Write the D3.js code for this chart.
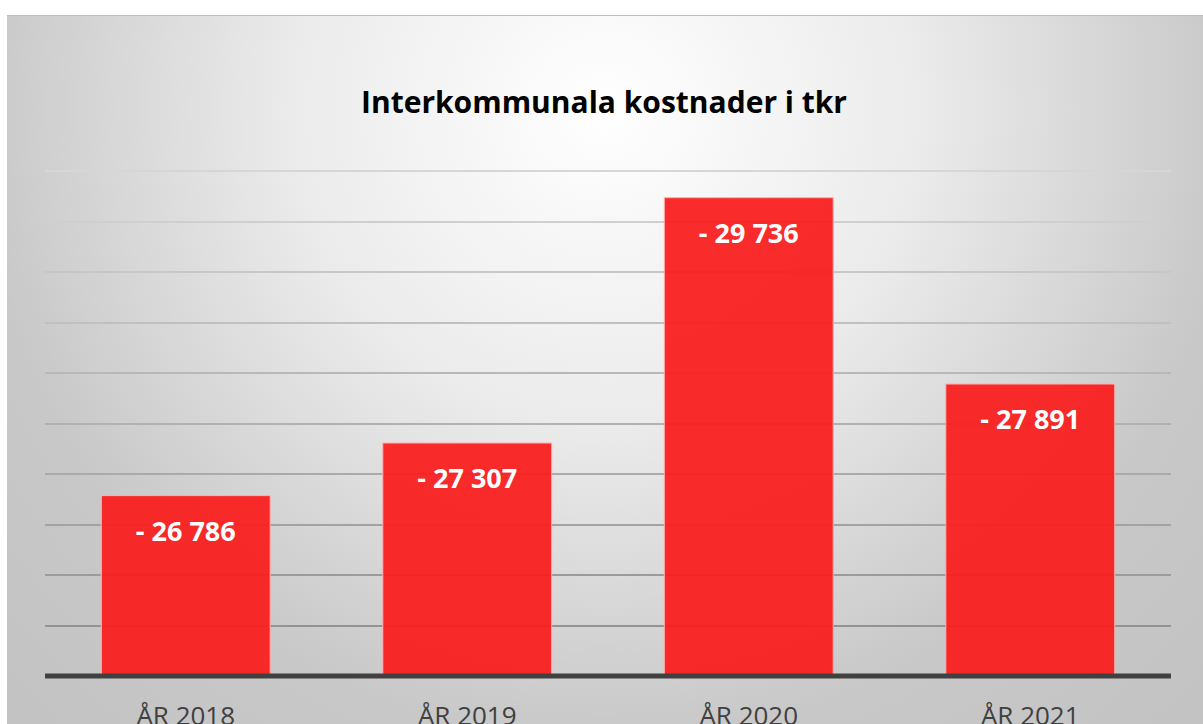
<!DOCTYPE html>
<html>
<head>
    <meta charset="utf-8">
    <title>Interkommunala kostnader i tkr</title>
    <script src="https://d3js.org/d3.v7.min.js"></script>
    <style>
        body { margin: 0; background: #fff; }
        .bar {
            fill: #fa1e1e;
            fill-opacity: 0.94;
            stroke: #ffb3b3;
            stroke-width: 1px;
        }
        .value {
            fill: #fff;
            font-family: "Open Sans", "Noto Sans", sans-serif;
            font-weight: bold;
            font-size: 27px;
        }
        .cat {
            fill: #404040;
            font-family: "Open Sans", "Noto Sans", sans-serif;
            font-size: 26px;
        }
    </style>
</head>
<body>
<script>
    // data (costs, so negative)
    var years = ["ÅR 2018", "ÅR 2019", "ÅR 2020", "ÅR 2021"];
    var costs = [-26786, -27307, -29736, -27891];
    var gridTicks = [-25500, -26000, -26500, -27000, -27500, -28000, -28500, -29000, -29500, -30000];
    var axisBase = -25000;

    var W = 1203, H = 724;
    var svg = d3.select("body").append("svg")
        .attr("width", W)
        .attr("height", H);

    // background: soft radial gradient, light in the top middle
    var defs = svg.append("defs");
    var rg = defs.append("radialGradient")
        .attr("id", "bg")
        .attr("gradientUnits", "userSpaceOnUse")
        .attr("cx", 605).attr("cy", 110).attr("r", 900);
    rg.append("stop").attr("offset", "0%").attr("stop-color", "#ffffff");
    rg.append("stop").attr("offset", "35%").attr("stop-color", "#ebebeb");
    rg.append("stop").attr("offset", "70%").attr("stop-color", "#c8c8c8");
    rg.append("stop").attr("offset", "100%").attr("stop-color", "#c2c2c2");

    svg.append("rect")
        .attr("x", 7).attr("y", 15)
        .attr("width", W - 7).attr("height", H - 15)
        .attr("fill", "url(#bg)");
    svg.append("line")
        .attr("x1", 7).attr("x2", W)
        .attr("y1", 15.5).attr("y2", 15.5)
        .attr("stroke", "#bdbdbd");

    var plotLeft = 45, plotRight = 1171, plotTop = 171, plotBottom = 676;

    var x = d3.scaleBand()
        .domain(years)
        .range([plotLeft, plotRight])
        .paddingInner(0.4)
        .paddingOuter(0.2);

    var y = d3.scaleLinear()
        .domain([axisBase, -30000])
        .range([plotBottom, plotTop]);

    var gridColor = d3.scaleLinear()
        .domain([plotTop, plotBottom])
        .range(["#d6d6d6", "#8c8c8c"]);

    // gridlines
    svg.append("g")
        .selectAll("line")
        .data(gridTicks)
        .enter()
        .append("line")
        .attr("x1", plotLeft).attr("x2", plotRight)
        .attr("y1", d => Math.round(y(d)))
        .attr("y2", d => Math.round(y(d)))
        .attr("stroke", d => gridColor(y(d)))
        .attr("stroke-width", 2);

    // title
    svg.append("text")
        .attr("x", 604)
        .attr("y", 113)
        .attr("text-anchor", "middle")
        .style("font-family", "'Open Sans', 'Noto Sans', sans-serif")
        .style("font-weight", "bold")
        .style("font-size", "30px")
        .style("fill", "#000")
        .text("Interkommunala kostnader i tkr");

    // bars
    svg.append("g")
        .selectAll("rect")
        .data(costs)
        .enter()
        .append("rect")
        .attr("class", "bar")
        .attr("x", (d, i) => x(years[i]))
        .attr("width", x.bandwidth())
        .attr("y", d => y(d))
        .attr("height", d => y(axisBase) - y(d));

    // value labels inside bar tops
    var fmt = d3.formatLocale({ decimal: ",", thousands: " ", grouping: [3], currency: ["", ""] }).format(",d");
    svg.append("g")
        .selectAll("text")
        .data(costs)
        .enter()
        .append("text")
        .attr("class", "value")
        .attr("x", (d, i) => x(years[i]) + x.bandwidth() / 2)
        .attr("y", d => y(d) + 45)
        .attr("text-anchor", "middle")
        .text(d => "- " + fmt(Math.abs(d)));

    // baseline axis
    svg.append("line")
        .attr("x1", plotLeft).attr("x2", plotRight)
        .attr("y1", y(axisBase)).attr("y2", y(axisBase))
        .attr("stroke", "#404040")
        .attr("stroke-width", 5);

    // category labels
    svg.append("g")
        .selectAll("text")
        .data(years)
        .enter()
        .append("text")
        .attr("class", "cat")
        .attr("x", d => x(d) + x.bandwidth() / 2)
        .attr("y", 725)
        .attr("text-anchor", "middle")
        .text(d => d);
</script>
</body>
</html>
